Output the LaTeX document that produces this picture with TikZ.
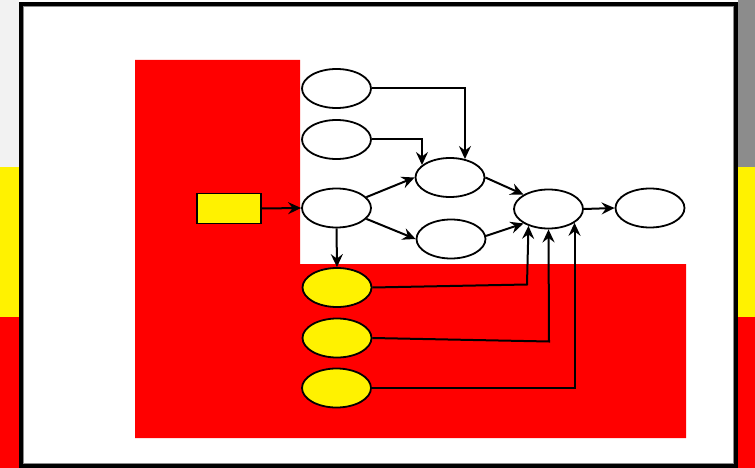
\documentclass[tikz,border=0pt]{standalone}
\usetikzlibrary{shapes.geometric,arrows.meta}
\definecolor{bandlight}{RGB}{242,242,242}
\definecolor{banddark}{RGB}{140,140,140}
\begin{document}
\begin{tikzpicture}[x=1pt,y=-1pt,
  blob/.style={ellipse,draw=black,line width=1.8pt,fill=white,
    minimum width=69pt,minimum height=39pt,inner sep=0pt},
  yblob/.style={blob,fill=yellow},
  srcbox/.style={rectangle,draw=black,line width=1.8pt,fill=yellow,
    minimum width=64pt,minimum height=30pt,inner sep=0pt},
  flow/.style={line width=2pt,-{Stealth[length=13pt,width=12pt,inset=4.5pt]}}]
\useasboundingbox (0,0) rectangle (755,468);
% side bands: yellow and red
\fill[yellow] (0,167) rectangle (755,317);
\fill[red] (0,317) rectangle (755,468);
% framed sheet
\draw[line width=4pt,fill=white] (21,4) rectangle (736,466);
\draw[black!45,line width=0.8pt] (23.6,6.6) rectangle (733.4,463.4);
% grey bands beside the sheet
\fill[bandlight] (0,0) rectangle (19,167);
\fill[banddark] (738,0) rectangle (755,167);
% red L-shaped area
\fill[red] (135,60) -- (300,60) -- (300,264) -- (686,264) -- (686,438) -- (135,438) -- cycle;
% nodes
\node[srcbox] (R) at (229,208.5) {};
\node[blob] (A1) at (336.5,88.5) {};
\node[blob] (A2) at (336.5,139.5) {};
\node[blob] (F) at (336.5,208) {};
\node[blob] (B) at (450,177.5) {};
\node[blob] (C) at (451,239) {};
\node[blob] (D) at (548.5,209) {};
\node[blob] (E) at (650,208) {};
\node[yblob] (Y1) at (337,287.5) {};
\node[yblob] (Y2) at (337,338) {};
\node[yblob] (Y3) at (336.5,388) {};
% bend points of the feedback lines
\coordinate (k1) at (527,284.5);
\coordinate (k2) at (549,341.5);
% connectors
\draw[flow] (R.east) -- (F.west);
\draw[flow] (A1.east) -| (B.51);
\draw[flow] (A2.east) -| (B.156);
\draw[flow] (F.20) -- (B.west);
\draw[flow] (F.-20) -- (C.west);
\draw[flow] (F.south) -- (Y1.north);
\draw[flow] (B.east) -- (D.150);
\draw[flow] (C.5) -- (D.210);
\draw[flow] (D.east) -- (E.west);
\draw[flow] (Y1.east) -- (k1) -- (D.220);
\draw[flow] (Y2.east) -- (k2) -- (D.south);
\draw[flow] (Y3.east) -| (D.-28);
\end{tikzpicture}
\end{document}
